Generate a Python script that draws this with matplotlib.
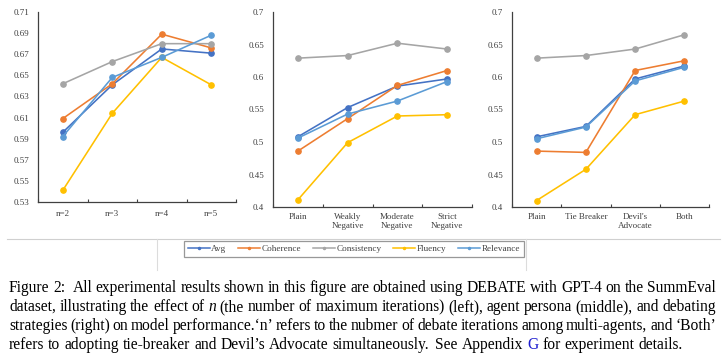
import numpy as np
import matplotlib.pyplot as plt
from matplotlib.lines import Line2D

plt.rcParams['font.family'] = ['Liberation Serif', 'DejaVu Serif']

series = ['Avg', 'Coherence', 'Consistency', 'Fluency', 'Relevance']
colors = ['#4472C4', '#ED7D31', '#A5A5A5', '#FFC000', '#5B9BD5']

# left: number of maximum iterations
cats_n = ['n=2', 'n=3', 'n=4', 'n=5']
vals_n = {
    'Avg':         [0.596, 0.641, 0.675, 0.671],
    'Coherence':   [0.609, 0.642, 0.689, 0.676],
    'Consistency': [0.642, 0.663, 0.680, 0.680],
    'Fluency':     [0.541, 0.614, 0.667, 0.641],
    'Relevance':   [0.592, 0.648, 0.667, 0.688],
}
yt_n = [0.53, 0.55, 0.57, 0.59, 0.61, 0.63, 0.65, 0.67, 0.69, 0.71]

# middle: agent persona
cats_p = ['Plain', 'Weakly\nNegative', 'Moderate\nNegative', 'Strict\nNegative']
vals_p = {
    'Avg':         [0.508, 0.553, 0.586, 0.597],
    'Coherence':   [0.486, 0.536, 0.587, 0.610],
    'Consistency': [0.629, 0.633, 0.652, 0.643],
    'Fluency':     [0.411, 0.499, 0.540, 0.542],
    'Relevance':   [0.506, 0.543, 0.563, 0.593],
}

# right: debating strategies
cats_s = ['Plain', 'Tie Breaker', "Devil's\nAdvocate", 'Both']
vals_s = {
    'Avg':         [0.508, 0.524, 0.597, 0.617],
    'Coherence':   [0.486, 0.484, 0.610, 0.625],
    'Consistency': [0.629, 0.633, 0.643, 0.665],
    'Fluency':     [0.410, 0.458, 0.542, 0.563],
    'Relevance':   [0.505, 0.523, 0.594, 0.615],
}
yt_ps = [0.4, 0.45, 0.5, 0.55, 0.6, 0.65, 0.7]

W, H = 726, 359
fig = plt.figure(figsize=(W / 100, H / 100), dpi=100)

def px_axes(x0, y0, x1, y1):
    return fig.add_axes([x0 / W, 1 - y1 / H, (x1 - x0) / W, (y1 - y0) / H])

axc = '#404040'

def panel(ax, cats, vals, yticks, xpad):
    x = np.arange(len(cats))
    for s, c in zip(series, colors):
        ax.plot(x, vals[s], color=c, lw=1.15, marker='o', ms=3.8, mec=c)
    ax.set_xlim(-0.5, len(cats) - 0.5)
    ax.set_ylim(yticks[0], yticks[-1])
    ax.set_yticks(yticks)
    ax.set_yticklabels(['{:g}'.format(v) for v in yticks])
    ax.set_xticks(x)
    ax.set_xticklabels(cats)
    ax.set_xticks(np.arange(len(cats) + 1) - 0.5, minor=True)
    ax.tick_params(axis='y', length=0, pad=6.5, labelsize=6.5, labelcolor=axc)
    ax.tick_params(axis='x', which='major', length=0, pad=xpad, labelsize=6.5,
                   labelcolor=axc)
    ax.tick_params(axis='x', which='minor', direction='in', length=2.5,
                   width=0.8, color=axc)
    for sp in ['top', 'right']:
        ax.spines[sp].set_visible(False)
    for sp in ['left', 'bottom']:
        ax.spines[sp].set_color(axc)
        ax.spines[sp].set_linewidth(0.9)
    ax.patch.set_alpha(0)

ax1 = px_axes(38, 12, 236, 202)
panel(ax1, cats_n, vals_n, yt_n, 6)
ax2 = px_axes(273, 12, 472, 207)
panel(ax2, cats_p, vals_p, yt_ps, 4.5)
ax3 = px_axes(512, 12, 709, 207)
panel(ax3, cats_s, vals_s, yt_ps, 4.5)

# faint frame lines of the legend strip
fig.add_artist(Line2D([7 / W, 720 / W], [1 - 239 / H] * 2, color='#d0d0d0', lw=0.8))
for xx in [157, 526]:
    fig.add_artist(Line2D([xx / W] * 2, [1 - 239 / H, 1 - 270 / H], color='#dcdcdc', lw=0.8))

handles = [Line2D([], [], color=c, lw=1.1, marker='o', ms=1.5) for c in colors]
leg = fig.legend(handles, series, loc='center', bbox_to_anchor=(354 / W, 1 - 249 / H),
                 ncol=5, fontsize=6.6, frameon=True, fancybox=False,
                 handlelength=2.4, handletextpad=0.15, columnspacing=1.3,
                 borderpad=0.45, borderaxespad=0)
leg.get_frame().set_edgecolor('#7f7f7f')
leg.get_frame().set_linewidth(0.9)
for t in leg.get_texts():
    t.set_color(axc)

# caption, justified word by word ('sp' = extra space after the word)
caption = [
    [('Figure', {}), ('2:', {'sp': 1.0}), ('All', {}), ('experimental', {}), ('results', {}),
     ('shown', {}), ('in', {}), ('this', {}), ('figure', {}), ('are', {}), ('obtained', {}),
     ('using', {}), ('DEBATE', {}), ('with', {}), ('GPT-4', {}), ('on', {}), ('the', {}),
     ('SummEval', {})],
    [('dataset,', {}), ('illustrating', {}), ('the', {}), ('effect', {}), ('of', {}),
     ('n', {'style': 'italic'}), ('(the', {}), ('number', {}), ('of', {}), ('maximum', {}),
     ('iterations)', {}), ('(left),', {}), ('agent', {}), ('persona', {}), ('(middle),', {}),
     ('and', {}), ('debating', {})],
    [('strategies', {}), ('(right)', {}), ('on', {}), ('model', {}),
     ('performance.\u2018n\u2019', {}), ('refers', {}), ('to', {}), ('the', {}), ('nubmer', {}),
     ('of', {}), ('debate', {}), ('iterations', {}), ('among', {}), ('multi-agents,', {}),
     ('and', {}), ('\u2018Both\u2019', {})],
    [('refers', {}), ('to', {}), ('adopting', {}), ('tie-breaker', {}), ('and', {}),
     ('Devil\u2019s', {}), ('Advocate', {}), ('simultaneously.', {'sp': 0.6}), ('See', {}),
     ('Appendix', {}), ('G', {'color': '#1f1fd0'}), ('for', {}), ('experiment', {}),
     ('details.', {})],
]
baselines = [292, 311, 330, 349]
x_left, x_right = 9, 716
renderer = fig.canvas.get_renderer()

def style(k):
    return {a: b for a, b in k.items() if a != 'sp'}

def measure(s, fs, **kw):
    t = fig.text(0, 0, s, fontsize=fs, **kw)
    w = t.get_window_extent(renderer).width
    t.remove()
    return w

base = 10
sp0 = measure('x x', base) - measure('xx', base)
nat = sum(measure(w, base, **style(k)) + sp0 * k.get('sp', 0) for w, k in caption[3]) \
    + sp0 * (len(caption[3]) - 1)
fs = base * 672 / nat
space = sp0 * fs / base

for i, (line, yb) in enumerate(zip(caption, baselines)):
    widths = [measure(w, fs, **style(k)) + space * k.get('sp', 0) for w, k in line]
    if i < 3:
        gap = (x_right - x_left - sum(widths)) / (len(line) - 1)
    else:
        gap = space
    x = x_left
    for (w, k), wd in zip(line, widths):
        kw = style(k)
        kw.setdefault('color', 'black')
        fig.text(x / W, 1 - yb / H, w, fontsize=fs, va='baseline', ha='left', **kw)
        x += wd + gap

fig.savefig('out.png', dpi=100)
